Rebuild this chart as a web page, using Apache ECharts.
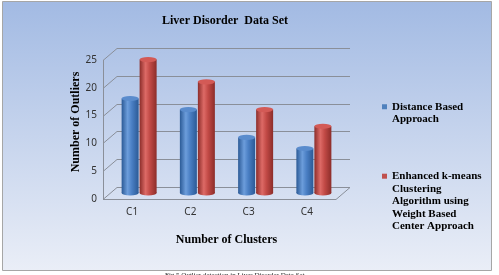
<!DOCTYPE html>
<html>
<head>
<meta charset="utf-8">
<script src="https://cdn.jsdelivr.net/npm/echarts@6/dist/echarts.min.js"></script>
<style>
html, body { margin: 0; padding: 0; background: #fff; }
#chart { width: 499px; height: 275px; }
</style>
</head>
<body>
<div id="chart"></div>
<script>
var categories = ['C1', 'C2', 'C3', 'C4'];
var distanceBased = [17, 15, 10, 8];
var enhancedKMeans = [24, 20, 15, 12];
var yTicks = [0, 5, 10, 15, 20, 25];

// 3d depth of the plot box
var DX = 14, DY = 12;
var serif = '"Liberation Serif", "Times New Roman", serif';

var chart = echarts.init(document.getElementById('chart'));

function wallItem(params, api) {
    var cs = params.coordSys;
    var x0 = cs.x, x1 = cs.x + cs.width;
    var v = api.value(1);
    var y = Math.round(api.coord([0, v])[1]) + 0.5;
    var st = { stroke: '#8a8f99', lineWidth: 1 };
    var kids = [
        { type: 'line', shape: { x1: x0, y1: y, x2: x0 + DX, y2: y - DY }, style: st },
        { type: 'line', shape: { x1: x0 + DX, y1: y - DY, x2: x1 + DX, y2: y - DY }, style: st }
    ];
    if (v === 0) {
        kids.push({ type: 'line', shape: { x1: x0, y1: y, x2: x1, y2: y }, style: st });
        kids.push({ type: 'line', shape: { x1: x1, y1: y, x2: x1 + DX, y2: y - DY }, style: st });
        kids.push({ type: 'line', shape: { x1: x0 + 0.5, y1: y, x2: x0 + 0.5, y2: cs.y }, style: st });
    }
    return { type: 'group', children: kids };
}

function cylinder(shift, edge, mid, light, topColor) {
    return function (params, api) {
        var i = api.value(0);
        var base = api.coord([i, 0]);
        var top = api.coord([i, api.value(1)]);
        var w = 17, rx = w / 2, ry = 2.6;
        var cx = base[0] + shift + DX / 2;
        var by = base[1] - DY / 2;
        var ty = top[1] - DY / 2;
        var grad = new echarts.graphic.LinearGradient(0, 0, 1, 0, [
            { offset: 0, color: edge },
            { offset: 0.35, color: light },
            { offset: 0.6, color: mid },
            { offset: 1, color: edge }
        ]);
        return {
            type: 'group',
            children: [
                { type: 'circle', x: cx, y: by, scaleY: ry / rx, shape: { cx: 0, cy: 0, r: rx }, style: { fill: grad } },
                { type: 'rect', shape: { x: cx - rx, y: ty, width: w, height: by - ty }, style: { fill: grad } },
                { type: 'circle', x: cx, y: ty, scaleY: ry / rx, shape: { cx: 0, cy: 0, r: rx }, style: { fill: topColor } }
            ]
        };
    };
}

// legend icon sits at the middle line, so pad with blank lines above
function padTop(lines) {
    var blanks = [];
    for (var k = 1; k < lines.length; k++) blanks.push('');
    return blanks.concat(lines).join('\n');
}

var legendText = {
    fontFamily: serif, fontWeight: 'bold', fontSize: 11, color: '#000'
};

chart.setOption({
    animation: false,
    graphic: [
        {
            type: 'rect', z: -10, silent: true,
            shape: { x: 2.5, y: 1.5, width: 489, height: 269 },
            style: {
                fill: new echarts.graphic.LinearGradient(0, 0, 0, 1, [
                    { offset: 0, color: '#a2bae3' },
                    { offset: 1, color: '#eaeef7' }
                ]),
                stroke: '#a6a6a6', lineWidth: 1
            }
        },
        {
            type: 'text', left: 165, top: 272, silent: true,
            style: { text: 'Fig 5 Outlier detection in Liver Disorder Data Set', font: '7px ' + serif, fill: '#222' }
        }
    ],
    title: {
        text: 'Liver Disorder  Data Set',
        left: 162, top: 15, padding: 0,
        textStyle: { fontFamily: serif, fontWeight: 'bold', fontSize: 12, color: '#000' }
    },
    legend: [
        {
            data: ['Distance Based Approach'],
            left: 382, top: 88, padding: 0,
            icon: 'rect', itemWidth: 5, itemHeight: 5,
            formatter: function () { return padTop(['Distance Based', 'Approach']); },
            textStyle: Object.assign({ lineHeight: 12.5 }, legendText)
        },
        {
            data: ['Enhanced k-means Clustering Algorithm using Weight Based Center Approach'],
            left: 382, top: 119.5, padding: 0,
            icon: 'rect', itemWidth: 5, itemHeight: 5,
            formatter: function () {
                return padTop(['Enhanced k-means', 'Clustering', 'Algorithm using', 'Weight Based', 'Center Approach']);
            },
            textStyle: Object.assign({ lineHeight: 12.6 }, legendText)
        }
    ],
    grid: { left: 103, top: 60, width: 233, height: 139 },
    xAxis: {
        type: 'category',
        data: categories,
        axisLine: { show: false },
        axisTick: { show: false },
        axisLabel: { margin: 8, fontFamily: '"Noto Sans", sans-serif', fontSize: 10, color: '#333' },
        name: 'Number of Clusters',
        nameLocation: 'middle',
        nameGap: 35,
        nameTextStyle: { fontFamily: serif, fontWeight: 'bold', fontSize: 12, color: '#000', padding: [0, 0, 0, 14] }
    },
    yAxis: {
        type: 'value',
        min: 0, max: 25, interval: 5,
        axisLine: { show: false },
        axisTick: { show: false },
        splitLine: { show: false },
        axisLabel: { margin: 6, fontFamily: '"Noto Sans", sans-serif', fontSize: 10, color: '#333' },
        name: 'Number of Outliers',
        nameLocation: 'middle',
        nameGap: 21,
        nameTextStyle: { fontFamily: serif, fontWeight: 'bold', fontSize: 12, color: '#000', padding: [0, 0, 0, 15] }
    },
    series: [
        {
            name: 'walls',
            type: 'custom',
            silent: true,
            z: 1,
            renderItem: wallItem,
            data: yTicks.map(function (v) { return [0, v]; })
        },
        {
            name: 'Distance Based Approach',
            type: 'custom',
            z: 3,
            itemStyle: { color: '#4f81bd' },
            renderItem: cylinder(-9, '#2b5a96', '#4a7fc4', '#6c9ddb', '#5a8ccd'),
            data: distanceBased.map(function (v, i) { return [i, v]; })
        },
        {
            name: 'Enhanced k-means Clustering Algorithm using Weight Based Center Approach',
            type: 'custom',
            z: 3,
            itemStyle: { color: '#c0504d' },
            renderItem: cylinder(9, '#8c2d2a', '#c24a46', '#dd6a66', '#d35a56'),
            data: enhancedKMeans.map(function (v, i) { return [i, v]; })
        }
    ]
});

window.addEventListener('resize', function () {
    chart.resize();
});
</script>
</body>
</html>
